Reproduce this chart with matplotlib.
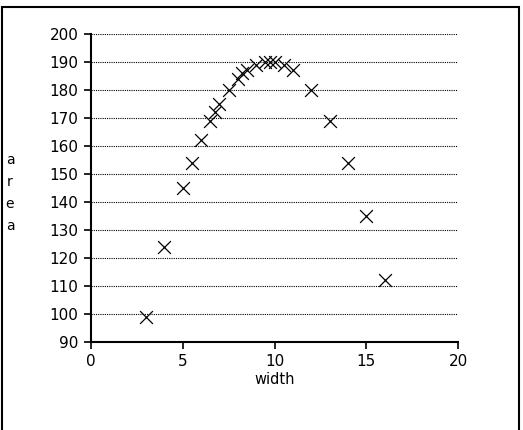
import matplotlib.pyplot as plt
from matplotlib.patches import Rectangle

# dados
width = [3, 4, 5, 5.5, 6, 6.5, 6.75, 7, 7.5, 8, 8.25, 8.5, 9, 9.5, 9.75, 10, 10.5, 11, 12, 13, 14, 15, 16]
area = [99, 124, 145, 154, 162, 169, 172, 175, 180, 184, 186, 187, 189, 190, 190, 190, 189, 187, 180, 169, 154, 135, 112]

xticks = [0, 5, 10, 15, 20]
yticks = [90, 100, 110, 120, 130, 140, 150, 160, 170, 180, 190, 200]

fig = plt.figure(figsize=(5.23, 4.30), dpi=100)
ax = fig.add_axes([91/523, 1 - 342/430, (458 - 91)/523, (342 - 34)/430])

# moldura externa
fig.patches.append(Rectangle((2/523, -0.01), (519 - 2)/523, 1 - 7/430 + 0.01,
                             transform=fig.transFigure, fill=False,
                             edgecolor='black', linewidth=1.5))

ax.scatter(width, area, marker='x', s=85, color='black', linewidths=0.9, zorder=3)

ax.set_xlim(0, 20)
ax.set_ylim(90, 200)
ax.set_xticks(xticks)
ax.set_yticks(yticks)
ax.tick_params(direction='out', length=5, width=1.2, labelsize=11, pad=4)

# linhas de grade pontilhadas
for y in yticks[1:]:
    ax.plot([0, 20], [y, y], color='black', linestyle=(0, (1, 1)), linewidth=0.8, zorder=1)

ax.spines['top'].set_visible(False)
ax.spines['right'].set_visible(False)
ax.spines['left'].set_linewidth(1.5)
ax.spines['bottom'].set_linewidth(1.5)

ax.set_xlabel('width', fontsize=10.5, labelpad=2)
fig.text(10/523, 1 - 193/430, 'a\nr\ne\na', fontsize=10, ha='center', va='center', linespacing=1.75)

fig.savefig('out.png', dpi=100)
